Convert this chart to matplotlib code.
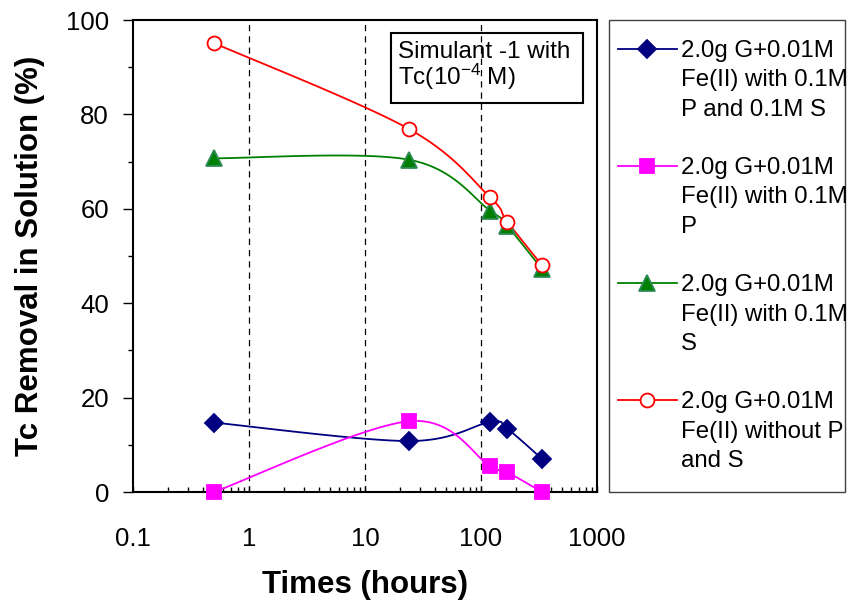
import numpy as np
import matplotlib
matplotlib.use("Agg")
import matplotlib.pyplot as plt
from matplotlib.lines import Line2D
from matplotlib.patches import Rectangle
from matplotlib.ticker import LogLocator, NullFormatter, MultipleLocator

plt.rcParams['font.family'] = ['Liberation Sans', 'DejaVu Sans']
plt.rcParams['mathtext.fontset'] = 'custom'
plt.rcParams['mathtext.rm'] = 'Liberation Sans'
plt.rcParams['mathtext.it'] = 'Liberation Sans'
plt.rcParams['mathtext.default'] = 'regular'

#### data
hours = [0.5, 24, 120, 168, 336]
p_and_s = [14.7, 10.8, 14.8, 13.4, 7.0]
p_only = [0.0, 15.0, 5.5, 4.2, 0.0]
s_only = [70.7, 70.4, 59.6, 56.4, 47.2]
no_p_s = [95.1, 76.9, 62.4, 57.3, 48.0]
series_labels = ["2.0g G+0.01M\nFe(II) with 0.1M\nP and 0.1M S",
                 "2.0g G+0.01M\nFe(II) with 0.1M\nP",
                 "2.0g G+0.01M\nFe(II) with 0.1M\nS",
                 "2.0g G+0.01M\nFe(II) without P\nand S"]
xtick_vals = [0.1, 1, 10, 100, 1000]
xtick_labels = ["0.1", "1", "10", "100", "1000"]
grid_x = [1, 10, 100]

W, H = 849, 601

def fx(px):
    return px / W

def fy(py):
    return 1 - py / H

def smooth(x, y, n=30):
    ## excel-like smoothing (catmull-rom) in log-x space
    u = np.log10(np.asarray(x, float))
    v = np.asarray(y, float)
    pu = np.concatenate([[u[0]], u, [u[-1]]])
    pv = np.concatenate([[v[0]], v, [v[-1]]])
    out_u, out_v = [], []
    t = np.linspace(0, 1, n)
    for i in range(1, len(pu) - 2):
        p0, p1, p2, p3 = [np.array([pu[k], pv[k]]) for k in (i - 1, i, i + 1, i + 2)]
        c1 = p1 + (p2 - p0) / 6
        c2 = p2 - (p3 - p1) / 6
        b = ((1 - t) ** 3)[:, None] * p1 + (3 * (1 - t) ** 2 * t)[:, None] * c1 \
            + (3 * (1 - t) * t ** 2)[:, None] * c2 + (t ** 3)[:, None] * p2
        out_u.extend(b[:, 0])
        out_v.extend(b[:, 1])
    return 10 ** np.array(out_u), np.array(out_v)

styles = [
    dict(color="#000080", marker="D", ms=9, mfc="#000080", mec="#000080"),
    dict(color="#FF00FF", marker="s", ms=9.5, mfc="#FF00FF", mec="#FF00FF"),
    dict(color="#008000", marker="^", ms=11, mfc="#008000", mec="#2e8b57"),
    dict(color="#FF0000", marker="o", ms=10, mfc="white", mec="#FF0000"),
]
data = [p_and_s, p_only, s_only, no_p_s]

fig = plt.figure(figsize=(W / 100, H / 100), dpi=100)
ax = fig.add_axes([fx(133), fy(492), (597 - 133) / W, (492 - 20) / H])

for gx in grid_x:
    ax.axvline(gx, color="black", lw=0.9, ls=(0, (5, 4)), zorder=1)

for vals, st in zip(data, styles):
    sx, sy = smooth(hours, vals)
    ax.plot(sx, sy, color=st["color"], lw=1.3, zorder=2, clip_on=False)
    ax.plot(hours, vals, ls="none", marker=st["marker"], ms=st["ms"],
            mfc=st["mfc"], mec=st["mec"], mew=1.3, zorder=3, clip_on=False)

ax.set_xscale("log")
ax.set_xlim(0.1, 1000)
ax.set_ylim(0, 100)
ax.set_xticks(xtick_vals)
ax.set_xticklabels(xtick_labels)
ax.xaxis.set_minor_locator(LogLocator(base=10, subs=range(2, 10), numticks=20))
ax.xaxis.set_minor_formatter(NullFormatter())
ax.set_yticks(range(0, 101, 20))
ax.yaxis.set_minor_locator(MultipleLocator(10))
ax.tick_params(axis="x", which="major", direction="in", length=4.5, width=1,
               labelsize=18.5, pad=25)
ax.tick_params(axis="x", which="minor", direction="in", length=3.6, width=1)
ax.tick_params(axis="y", which="major", direction="out", length=7.2, width=1,
               labelsize=18.5, pad=10)
ax.tick_params(axis="y", which="minor", direction="out", length=3.6, width=1)
for sp in ax.spines.values():
    sp.set_linewidth(1.5)

ax.set_xlabel("Times (hours)", fontsize=22.5, fontweight="bold")
ax.set_ylabel("Tc Removal in Solution (%)", fontsize=22.5, fontweight="bold")
ax.xaxis.set_label_coords(0.5, -0.165)
ax.yaxis.set_label_coords(-0.19, 0.5)

## text box
fig.patches.append(Rectangle((fx(391), fy(103)), (583 - 391) / W, (103 - 33) / H,
                             transform=fig.transFigure, fill=False,
                             ec="black", lw=1.5))
fig.text(fx(398), fy(58), "Simulant -1 with", fontsize=17.5, va="baseline")
fig.text(fx(398), fy(85), "Tc(10$^{-4}$ M)", fontsize=17.5, va="baseline")

## legend (handle next to first line of each label)
fig.patches.append(Rectangle((fx(609), fy(492)), (845 - 609) / W, (492 - 20) / H,
                             transform=fig.transFigure, fill=False,
                             ec="#404040", lw=1))
for i, (lab, st) in enumerate(zip(series_labels, styles)):
    yc = 48.5 + 117.2 * i
    fig.lines.append(Line2D([fx(618), fx(677)], [fy(yc), fy(yc)],
                            transform=fig.transFigure, color=st["color"], lw=1.3))
    fig.lines.append(Line2D([fx(647)], [fy(yc)], transform=fig.transFigure,
                            ls="none", marker=st["marker"], ms=st["ms"],
                            mfc=st["mfc"], mec=st["mec"], mew=1.3))
    for k, line in enumerate(lab.split("\n")):
        fig.text(fx(681), fy(yc + 8.3 + 29.5 * k), line, fontsize=17.3,
                 va="baseline")

fig.savefig("out.png", dpi=100)
